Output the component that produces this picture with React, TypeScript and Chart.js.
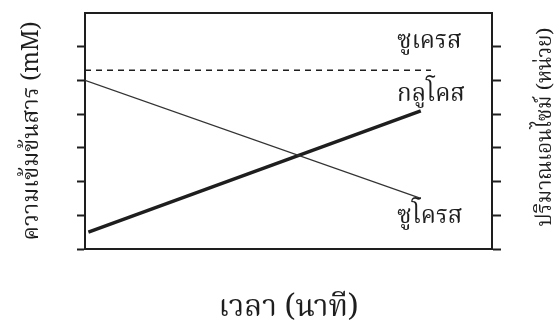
import React, { useEffect, useRef } from "react";
import { Chart, registerables } from "chart.js";

Chart.register(...registerables);

// Data (x in time units, y in concentration units)
const sucroseX = [0, 9.9];
const sucroseY = [5.0, 1.5];
const glucoseX = [0.1, 9.9];
const glucoseY = [0.5, 4.1];
const sucraseX = [0, 10.2];
const sucraseY = [5.3, 5.3];

const seriesLabels = ["ซูเครส", "กลูโคส", "ซูโครส"];
const labelAnchorX = [9.2, 9.2, 9.2];
const labelAnchorY = [6.08, 4.52, 0.88];

const yTickValues = [0, 1, 2, 3, 4, 5, 6, 7];
const xTitle = "เวลา (นาที)";
const yLeftTitle = "ความเข้มข้นสาร (mM)";
const yRightTitle = "ปริมาณเอนไซม์ (หน่วย)";

const FONT = '"Noto Serif Thai", "Noto Sans Thai", "Tlwg Typo", Kinnari, Norasi, Loma, Garuda, serif';
const INK = "#1e1e1e";

function toPoints(xs: number[], ys: number[]) {
  return xs.map((x, i) => ({ x, y: ys[i] }));
}

export default function App() {
  const ref = useRef<HTMLCanvasElement | null>(null);

  useEffect(() => {
    if (!ref.current) return;

    const labelPlugin = {
      id: "labels",
      afterDraw(chart: any) {
        const { ctx, scales } = chart;
        const xs = scales.x;
        const ys = scales.y;
        ctx.save();
        ctx.fillStyle = INK;
        ctx.font = `24px ${FONT}`;
        ctx.textAlign = "left";
        ctx.textBaseline = "middle";
        seriesLabels.forEach((t, i) => {
          ctx.fillText(t, xs.getPixelForValue(labelAnchorX[i]), ys.getPixelForValue(labelAnchorY[i]));
        });
        // right axis title, reading bottom-to-top
        const yr = scales.yRight;
        ctx.translate(yr.right + 47, (chart.chartArea.top + chart.chartArea.bottom) / 2 - 4);
        ctx.rotate(-Math.PI / 2);
        ctx.textAlign = "center";
        ctx.font = `20.5px ${FONT}`;
        ctx.fillText(yRightTitle, 0, 0);
        ctx.restore();
      },
    };

    const tickColor = (c: any) => (c.tick && c.tick.value >= 7 ? "rgba(0,0,0,0)" : INK);

    const chart = new Chart(ref.current, {
      type: "line",
      data: {
        datasets: [
          {
            label: "sucrase",
            data: toPoints(sucraseX, sucraseY),
            borderColor: INK,
            borderWidth: 1.5,
            borderDash: [6, 5],
            pointRadius: 0,
            fill: false,
          },
          {
            label: "sucrose",
            data: toPoints(sucroseX, sucroseY),
            borderColor: "#333",
            borderWidth: 1.2,
            pointRadius: 0,
            fill: false,
          },
          {
            label: "glucose",
            data: toPoints(glucoseX, glucoseY),
            borderColor: INK,
            borderWidth: 3.5,
            pointRadius: 0,
            fill: false,
          },
        ],
      },
      options: {
        animation: false,
        responsive: false,
        devicePixelRatio: 1,
        layout: { padding: { left: 20.2, right: 58, top: 13, bottom: 0 } },
        plugins: { legend: { display: false }, tooltip: { enabled: false } },
        scales: {
          x: {
            type: "linear",
            position: "bottom",
            min: 0,
            max: 12,
            grid: { display: false, drawTicks: false },
            ticks: { display: false },
            border: { display: true, width: 2, color: INK },
            title: {
              display: true,
              text: xTitle,
              color: INK,
              font: { family: FONT, size: 30, lineHeight: 0.8 },
              padding: { top: 50, bottom: 0 },
            },
          },
          xTop: {
            type: "linear",
            position: "top",
            min: 0,
            max: 12,
            grid: { display: false, drawTicks: false },
            ticks: { display: false },
            border: { display: true, width: 2, color: INK },
          },
          y: {
            type: "linear",
            position: "left",
            min: 0,
            max: 7,
            afterBuildTicks: (s: any) => {
              s.ticks = yTickValues.map((v) => ({ value: v }));
            },
            grid: {
              display: true,
              drawOnChartArea: false,
              drawTicks: true,
              tickLength: 8,
              tickWidth: 2,
              tickColor,
            },
            ticks: { display: false },
            border: { display: true, width: 2, color: INK },
            title: {
              display: true,
              text: yLeftTitle,
              color: INK,
              font: { family: FONT, size: 23, lineHeight: 1.2 },
              padding: { top: 0, bottom: 29.2 },
            },
          },
          yRight: {
            type: "linear",
            position: "right",
            min: 0,
            max: 7,
            afterBuildTicks: (s: any) => {
              s.ticks = yTickValues.map((v) => ({ value: v }));
            },
            grid: {
              display: true,
              drawOnChartArea: false,
              drawTicks: true,
              tickLength: 9,
              tickWidth: 2,
              tickColor,
            },
            ticks: { display: false },
            border: { display: true, width: 2, color: INK },
          },
        },
      },
      plugins: [labelPlugin],
    } as any);

    return () => chart.destroy();
  }, []);

  return (
    <div style={{ position: "fixed", left: 0, top: 0, width: 559, height: 323, background: "#fff" }}>
      <canvas ref={ref} width={559} height={323} style={{ display: "block" }} />
    </div>
  );
}
